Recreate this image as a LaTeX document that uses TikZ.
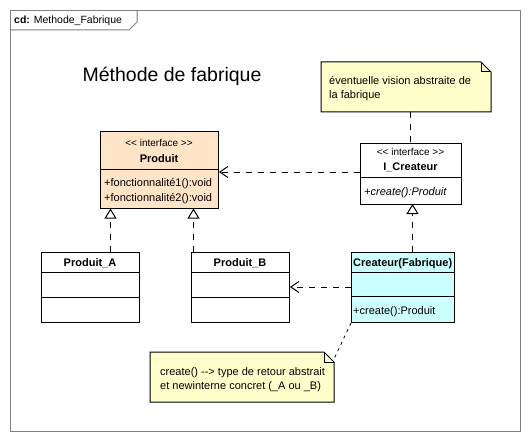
\documentclass[tikz,border=0pt]{standalone}
\usepackage{fontspec}
\setmainfont{Liberation Sans}[Ligatures=TeXOff]
\usetikzlibrary{arrows.meta}
\definecolor{peach}{RGB}{255,228,200}
\definecolor{notey}{RGB}{255,255,204}
\definecolor{cyanl}{RGB}{204,255,255}
\definecolor{framegray}{RGB}{128,128,128}
\tikzset{
  box/.style={draw=black, line width=1pt, rectangle, inner sep=0pt, anchor=north west},
  txt/.style={font=\fontsize{11}{13}\selectfont, inner sep=0pt, anchor=base},
  stereo/.style={font=\fontsize{10}{12}\selectfont, inner sep=0pt, anchor=base},
  ltxt/.style={font=\fontsize{11}{13}\selectfont, inner sep=0pt, anchor=base west},
  dep/.style={line width=1pt, dash pattern=on 6pt off 6pt, -{Straight Barb[length=8pt,width=11pt,line width=1pt]}},
  tri/.style={line width=1pt, dash pattern=on 6pt off 6pt, -{Triangle[open,length=10pt,width=12pt,line width=1pt,fill=white,sep=0pt]}},
  anchorline/.style={line width=1pt, dash pattern=on 6pt off 6pt},
  dotline/.style={line width=0.8pt, dash pattern=on 3pt off 4pt},
}
\begin{document}
\begin{tikzpicture}[x=1pt,y=-1pt]
\useasboundingbox (0,0) rectangle (530,441);
% frame
\node[draw=framegray, line width=1pt, rectangle, inner sep=0pt, anchor=north west, minimum width=510pt, minimum height=421pt] (frame) at (10,10) {};
\draw[framegray, line width=1pt] (10,30) -- (129,30) -- (137,22) -- (137,10);
\node[inner sep=0pt, anchor=base west, font=\fontsize{10.5}{12}\selectfont] (tab) at (14,24) {\textbf{cd:} Methode\_Fabrique};
% title
\node[inner sep=0pt, anchor=base, font=\fontsize{19.5}{22}\selectfont] (title) at (172,82) {Méthode de fabrique};

% Produit
\node[box, fill=peach, minimum width=118pt, minimum height=77pt] (produit) at (100,131) {};
\draw[line width=1pt] (100,169) -- (218,169);
\node[stereo] (prodst) at (159,146.5) {<< interface >>};
\node[txt, font=\fontsize{11}{13}\selectfont\bfseries] (prodname) at (159,162) {Produit};
\node[ltxt] (prodm1) at (104,186) {+fonctionnalité1():void};
\node[ltxt] (prodm2) at (104,201) {+fonctionnalité2():void};

% Produit_A
\node[box, fill=white, minimum width=98pt, minimum height=70pt] (prodA) at (41,252) {};
\draw[line width=1pt] (41,272) -- (139,272);
\draw[line width=1pt] (41,297) -- (139,297);
\node[txt, font=\fontsize{11}{13}\selectfont\bfseries] (prodAname) at (90,266) {Produit\_A};

% Produit_B
\node[box, fill=white, minimum width=98pt, minimum height=70pt] (prodB) at (191,252) {};
\draw[line width=1pt] (191,272) -- (289,272);
\draw[line width=1pt] (191,297) -- (289,297);
\node[txt, font=\fontsize{11}{13}\selectfont\bfseries] (prodBname) at (240,266) {Produit\_B};

% I_Createur
\node[box, fill=white, minimum width=101pt, minimum height=60pt] (icreat) at (360,143.5) {};
\draw[line width=1pt] (360,177.5) -- (461,177.5);
\node[stereo] (icst) at (410.5,155.5) {<< interface >>};
\node[txt, font=\fontsize{11}{13}\selectfont\bfseries] (icname) at (410.5,171) {I\_Createur};
\node[ltxt, font=\fontsize{11}{13}\selectfont\itshape] (icm) at (364,195) {+create():Produit};

% Createur(Fabrique)
\node[box, fill=cyanl, minimum width=103pt, minimum height=70pt] (creat) at (351,252) {};
\draw[line width=1pt] (351,272) -- (454,272);
\draw[line width=1pt] (351,296.5) -- (454,296.5);
\node[ltxt, font=\fontsize{11}{13}\selectfont\bfseries] (crname) at (353,266) {Createur(Fabrique)};
\node[ltxt] (crm) at (353,314) {+create():Produit};

% top note
\path[fill=notey, draw=black, line width=1pt] (321,62) -- (481,62) -- (491,72) -- (491,112) -- (321,112) -- cycle;
\draw[line width=1pt] (481,62) -- (481,72) -- (491,72);
\coordinate (note1) at (410,112);
\node[ltxt] (n1a) at (329,85) {éventuelle vision abstraite de};
\node[ltxt] (n1b) at (329,99) {la fabrique};

% bottom note
\path[fill=notey, draw=black, line width=1pt] (150,352) -- (324,352) -- (334,362) -- (334,402) -- (150,402) -- cycle;
\draw[line width=1pt] (324,352) -- (324,362) -- (334,362);
\coordinate (note2) at (334,359);
\node[ltxt] (n2a) at (160,375) {create() --> type de retour abstrait};
\node[ltxt] (n2b) at (160,389) {et newinterne concret (\_A ou \_B)};

% connectors
\coordinate (tA) at (110.5,208.5);
\coordinate (tB) at (193.5,208.5);
\draw[tri] (prodA.north -| tA) -- (tA);
\draw[tri] (prodB.north -| tB) -- (tB);
\coordinate (tI) at (412.5,204);
\draw[tri] (creat.north -| tI) -- (tI);
\coordinate (depY) at (0,172);
\draw[dep] (icreat.west |- depY) -- (produit.east |- depY);
\coordinate (depY2) at (0,287);
\draw[dep] (creat.west |- depY2) -- (prodB.east |- depY2);
\draw[anchorline] (note1) -- (icreat.north -| note1);
\draw[dotline] (creat.south west) -- (note2);
\end{tikzpicture}
\end{document}
